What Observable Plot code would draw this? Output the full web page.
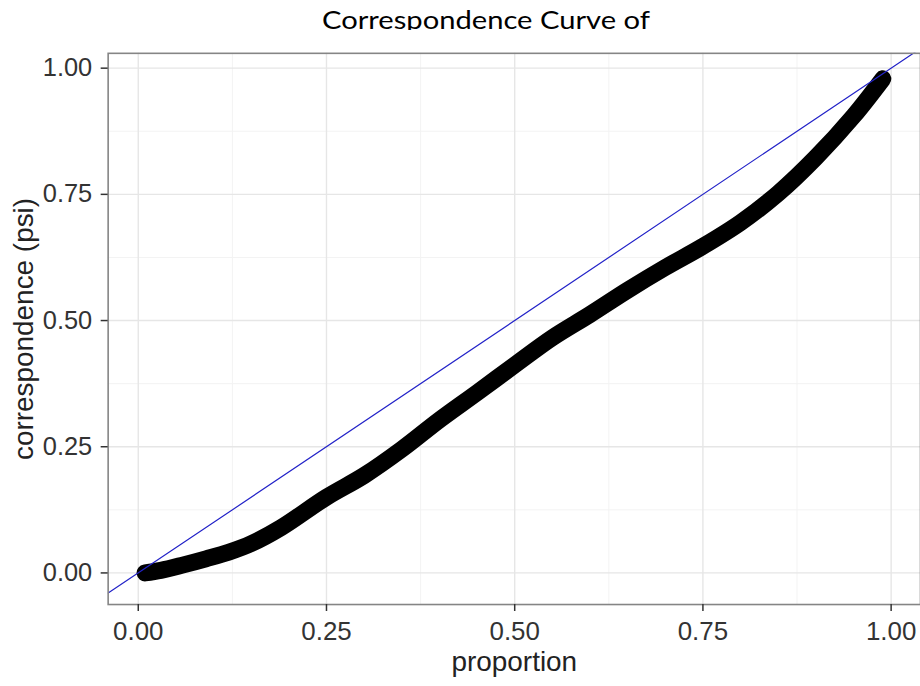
<!DOCTYPE html>
<html>
<head>
<meta charset="utf-8">
<script src="https://cdn.jsdelivr.net/npm/d3@7"></script>
<script src="https://cdn.jsdelivr.net/npm/@observablehq/plot@0.6"></script>
<style>
  html, body { margin: 0; padding: 0; background: #fff; overflow: hidden; width: 920px; height: 686px; }
  #wrap { position: relative; width: 920px; height: 686px; overflow: hidden; }
  #plot { position: absolute; left: 0; top: 0; }
  #titleBox { position: absolute; left: 0; top: 0; width: 920px; height: 30px; overflow: hidden; }
  #title { position: absolute; top: 7px; left: 0; white-space: nowrap; font-family: Lato, "Open Sans", sans-serif; font-size: 25px; line-height: 1; color: #000; transform-origin: 0 0; }
</style>
</head>
<body>
<div id="wrap">
  <div id="plot"></div>
  <div id="titleBox"><span id="title">Correspondence Curve of</span></div>
</div>
<script>
// ---- data ----
const proportion = [0.009, 0.03, 0.06, 0.09, 0.12, 0.15, 0.19, 0.25, 0.30, 0.35, 0.40, 0.45, 0.50, 0.55, 0.60, 0.65, 0.70, 0.75, 0.80, 0.85, 0.90, 0.95, 0.989];
const psi        = [0.000, 0.005, 0.016, 0.028, 0.041, 0.058, 0.090, 0.150, 0.193, 0.245, 0.303, 0.357, 0.412, 0.466, 0.512, 0.560, 0.605, 0.647, 0.694, 0.752, 0.823, 0.905, 0.979];
const majorTicks = [0, 0.25, 0.5, 0.75, 1];
const minorTicks = [0.125, 0.375, 0.625, 0.875];
const xDomain = [-0.04, 1.039];
const yDomain = [-0.0626, 1.0294];
const titleText = "Correspondence Curve of";
const xLabel = "proportion";
const yLabel = "correspondence (psi)";

const curve = proportion.map((p, i) => ({p, c: psi[i]}));
const fmt = d3.format(".2f");
const font = "Liberation Sans, Arial, sans-serif";

const chart = Plot.plot({
  width: 923,
  height: 686,
  marginLeft: 108,
  marginRight: 0,
  marginTop: 53,
  marginBottom: 80,
  style: {background: "#fff", fontFamily: font},
  x: {domain: xDomain},
  y: {domain: yDomain},
  marks: [
    Plot.gridX(minorTicks, {stroke: "#f3f3f3", strokeOpacity: 1, strokeWidth: 1}),
    Plot.gridY(minorTicks, {stroke: "#f3f3f3", strokeOpacity: 1, strokeWidth: 1}),
    Plot.gridX(majorTicks, {stroke: "#e6e6e6", strokeOpacity: 1, strokeWidth: 1.4}),
    Plot.gridY(majorTicks, {stroke: "#e6e6e6", strokeOpacity: 1, strokeWidth: 1.4}),
    Plot.line(curve, {x: "p", y: "c", stroke: "#000", strokeWidth: 17, curve: "catmull-rom", strokeLinecap: "round", strokeLinejoin: "round"}),
    Plot.line(xDomain, {x: d => d, y: d => d, stroke: "#2323c8", strokeWidth: 1.2, clip: true}),
    Plot.frame({stroke: "#858585", strokeWidth: 1.6}),
    Plot.axisX(majorTicks, {tickFormat: fmt, tickSize: 7, tickPadding: 10, fontSize: 26, color: "#333", strokeWidth: 1.5, label: null}),
    Plot.axisY(majorTicks, {tickFormat: fmt, tickSize: 7, tickPadding: 9, fontSize: 25.5, color: "#333", strokeWidth: 1.5, label: null}),
    Plot.text([xLabel], {frameAnchor: "bottom", dy: 67, lineAnchor: "bottom", fontSize: 28, fill: "#222", text: d => d}),
    Plot.text([yLabel], {frameAnchor: "left", textAnchor: "middle", dx: -75, rotate: -90, lineAnchor: "bottom", fontSize: 28, fill: "#222", text: d => d})
  ]
});
document.getElementById("plot").appendChild(chart);

// title: scale to the measured width and centre it
const t = document.getElementById("title");
t.textContent = titleText;
const w = t.getBoundingClientRect().width;
const target = 328;
const sx = target / w;
t.style.transform = `scaleX(${sx})`;
t.style.left = (486 - target / 2) + "px";
</script>
</body>
</html>
